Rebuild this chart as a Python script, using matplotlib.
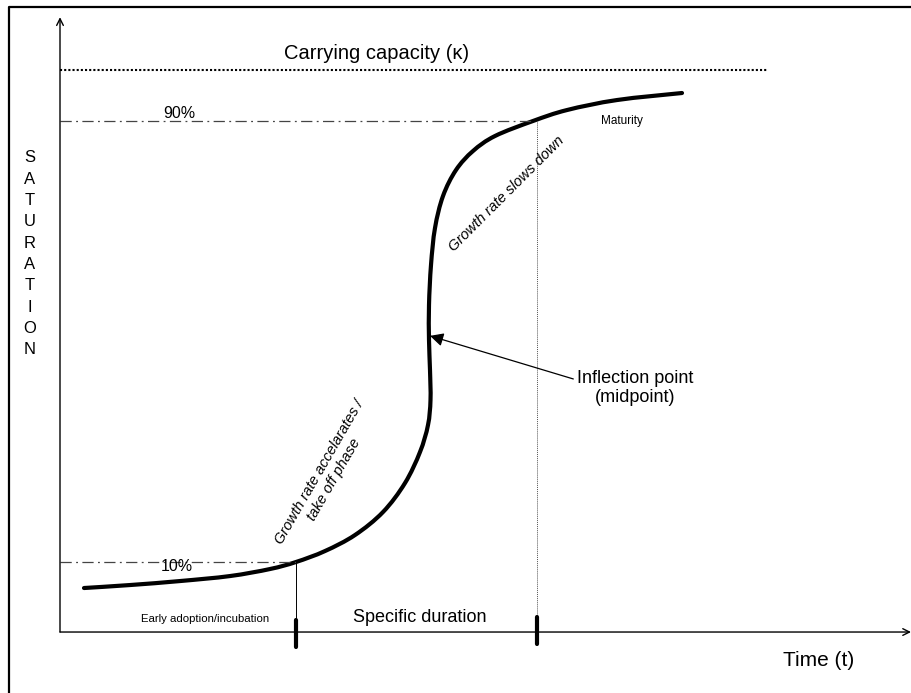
import matplotlib
matplotlib.use("Agg")
import matplotlib.pyplot as plt
from matplotlib.path import Path
from matplotlib.patches import PathPatch

plt.rcParams['font.family'] = ['Liberation Sans', 'DejaVu Sans']

# S-curve (time, saturation), carrying capacity K = 100
time = [2.4, 7.0, 12.0, 17.0, 21.0, 23.6, 26.5, 29.5, 32.3, 34.5, 36.0, 36.8, 37.05,
        37.0, 36.9, 36.9, 37.1, 37.5, 38.3, 39.6, 41.3, 43.5, 47.3, 50.7, 55.7, 62.2]
saturation = [7.83, 8.36, 9.07, 9.96, 11.21, 12.46, 14.41, 17.26, 21.35, 26.51, 32.03,
              36.83, 41.28, 46.62, 51.96, 58.19, 65.30, 71.89, 77.58, 82.21, 85.59, 88.26,
              90.93, 92.88, 94.66, 95.91]

capacity = 100
level_hi = 90.9      # "90%" line
level_lo = 12.46     # "10%" line
t_lo = 23.6          # start of specific duration
t_hi = 47.7          # end of specific duration
t_cross_hi = 47.3    # where the curve meets the 90% line
inflection = (37.0, 52.7)


def smooth_path(xs, ys):
    # Catmull-Rom through the points, drawn as cubic Bezier segments
    pts = list(zip(xs, ys))
    verts = [pts[0]]
    codes = [Path.MOVETO]
    n = len(pts)
    for i in range(n - 1):
        p0 = pts[max(i - 1, 0)]
        p1 = pts[i]
        p2 = pts[i + 1]
        p3 = pts[min(i + 2, n - 1)]
        c1 = (p1[0] + (p2[0] - p0[0]) / 6, p1[1] + (p2[1] - p0[1]) / 6)
        c2 = (p2[0] - (p3[0] - p1[0]) / 6, p2[1] - (p3[1] - p1[1]) / 6)
        verts += [c1, c2, p2]
        codes += [Path.CURVE4] * 3
    return Path(verts, codes)


fig = plt.figure(figsize=(9.12, 6.93), dpi=100)
ax = fig.add_axes([0, 0, 1, 1])
ax.set_xlim(-6, 85.2)
ax.set_ylim(-10.85, 112.46)
ax.axis('off')

# outer frame (runs off the right / bottom edge)
ax.plot([0.0099, 0.0099, 1.02], [-0.02, 0.9899, 0.9899], transform=ax.transAxes,
        color='black', lw=1.6, solid_capstyle='butt', clip_on=True)

# axes with open arrow heads
ax.annotate('', xy=(0, 109.4), xytext=(0, 0),
            arrowprops=dict(arrowstyle='->', lw=1.0, color='black', shrinkA=0, shrinkB=0,
                            mutation_scale=12))
ax.annotate('', xy=(85.1, 0), xytext=(0, 0),
            arrowprops=dict(arrowstyle='->', lw=1.0, color='black', shrinkA=0, shrinkB=0,
                            mutation_scale=12))

# carrying capacity
ax.plot([0, 70.7], [capacity, capacity], color='black', lw=1.5, linestyle=(0, (1, 1)))
ax.text(31.7, 102.9, 'Carrying capacity (\u03ba)', fontsize=14.5, ha='center', va='center')

# 90% / 10% guides
ax.plot([0, t_cross_hi], [level_hi, level_hi], color='#444444', lw=0.9,
        linestyle=(0, (9, 3.5, 1.5, 3.5)))
ax.plot([0, t_lo], [level_lo, level_lo], color='#444444', lw=0.9,
        linestyle=(0, (9, 3.5, 1.5, 3.5)))
ax.text(11.9, 92.3, '90%', fontsize=11.5, ha='center', va='center')
ax.text(11.7, 11.6, '10%', fontsize=11.5, ha='center', va='center')

# vertical markers
ax.plot([t_lo, t_lo], [level_lo, 0], color='black', lw=0.7)
ax.plot([t_hi, t_hi], [level_hi, 0], color='#555555', lw=0.7, linestyle=(0, (1, 1)))
ax.plot([t_lo, t_lo], [2.14, -2.67], color='black', lw=3, solid_capstyle='round')
ax.plot([t_hi, t_hi], [2.67, -2.14], color='black', lw=3, solid_capstyle='round')

# the S-curve
ax.add_patch(PathPatch(smooth_path(time, saturation), fill=False, edgecolor='black',
                       lw=3, capstyle='round', joinstyle='round'))

# annotations
ax.text(14.5, 2.31, 'Early adoption/incubation', fontsize=8.2, ha='center', va='center',
        family=['Liberation Sans Narrow', 'Liberation Sans'])
ax.text(36.0, 2.67, 'Specific duration', fontsize=13, ha='center', va='center')
ax.text(56.2, 90.9, 'Maturity', fontsize=8.5, ha='center', va='center',
        family=['Liberation Sans Narrow', 'Liberation Sans'])
ax.text(44.7, 77.9, 'Growth rate slows down', fontsize=10.5, style='italic',
        rotation=45, ha='center', va='center', rotation_mode='anchor')
ax.text(26.7, 27.8, 'Growth rate accelarates /\ntake off phase', fontsize=10.5,
        style='italic', rotation=60, ha='center', va='center', multialignment='center',
        rotation_mode='anchor')
ax.annotate('Inflection point\n(midpoint)', xy=inflection, xytext=(57.5, 43.4),
            fontsize=13, ha='center', va='center', multialignment='center',
            arrowprops=dict(arrowstyle='-|>', color='black', lw=0.9, mutation_scale=20,
                            shrinkA=0, shrinkB=0, relpos=(-0.03, 0.75)))
ax.text(75.9, -4.98, 'Time (t)', fontsize=15, ha='center', va='center')
ax.text(-3.0, 67.3, '\n'.join('SATURATION'), fontsize=12, ha='center', va='center',
        linespacing=1.53)

fig.savefig('out.png', dpi=100)
